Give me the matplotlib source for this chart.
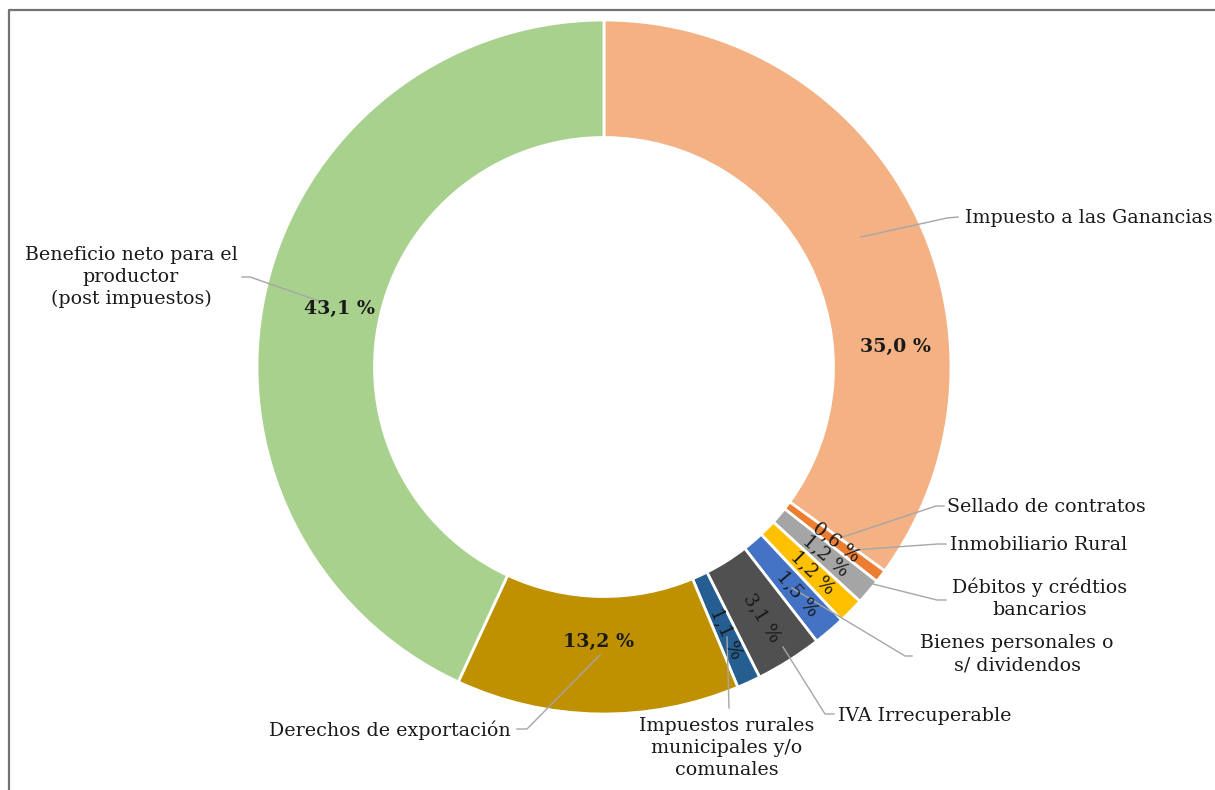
import matplotlib
matplotlib.use("Agg")
import matplotlib.pyplot as plt
import numpy as np

# ---------------- data ----------------
categories = [
    "Impuesto a las Ganancias",
    "Sellado de contratos",
    "Inmobiliario Rural",
    "Débitos y crédtios\nbancarios",
    "Bienes personales o\ns/ dividendos",
    "IVA Irrecuperable",
    "Impuestos rurales\nmunicipales y/o\ncomunales",
    "Derechos de exportación",
    "Beneficio neto para el\nproductor\n(post impuestos)",
]
values = [35.0, 0.6, 1.2, 1.2, 1.5, 3.1, 1.1, 13.2, 43.1]
colors = ["#F4B183", "#ED7D31", "#A5A5A5", "#FFC000", "#4472C4",
          "#505050", "#255E91", "#BF9000", "#A9D18E"]

# ---------------- layout (pixel coords, y from top) ----------------
W, H = 1215, 790
CENTER_PX = (604, 367)
R_OUT, R_IN = 347, 229.5
pct_radius = [292, 291, 291, 293, 298, 296, 293, 275, 271]
pct_angle_override = {0: 3.9}
# external category labels: (x, y, ha)
name_pos = [
    (965, 218, "left"),
    (947, 507, "left"),
    (950, 545, "left"),
    (1040, 598, "center"),
    (1017, 654, "center"),
    (838, 716, "left"),
    (727, 748, "center"),
    (511, 730, "right"),
    (131, 277, "center"),
]
# leader lines (pixel coords, y from top)
leaders = [
    [(861, 237), (947, 218), (958, 217)],
    [(843, 537), (936, 506), (944, 506)],
    [(853, 550), (938, 544), (946, 544)],
    [(873, 584), (937, 600), (946, 600)],
    [(792, 588), (905, 656), (912, 656)],
    [(783, 647), (825, 714), (834, 714)],
    [(727, 637), (729, 708)],
    [(600, 655), (527, 729), (517, 729)],
    [(325, 303), (250, 277), (242, 277)],
]

FONT = "DejaVu Serif"
TXT = "#1a1a1a"
FS = 13.7


def P(x, y):
    return (x, H - y)


fig = plt.figure(figsize=(W / 100, H / 100), dpi=100)
ax = fig.add_axes([0, 0, 1, 1])

cx, cy = P(*CENTER_PX)
wedges, _ = ax.pie(values, colors=colors, startangle=90, counterclock=False,
                   radius=R_OUT, center=(cx, cy),
                   wedgeprops=dict(width=R_OUT - R_IN, edgecolor="white", linewidth=2))
ax.set_xlim(0, W)
ax.set_ylim(0, H)
ax.set_aspect("auto")
ax.axis("off")

# frame
fx = [9, 9, W + 10]
fy = [H + 10, 10, 10]
ax.plot(fx, [H - v for v in fy], color="#737373", lw=1.6, solid_capstyle="butt")

# percentage labels
cum = np.concatenate([[0], np.cumsum(values)])
total = sum(values)
for i, v in enumerate(values):
    mid = 90 - 360 * (cum[i] + v / 2) / total
    ang = pct_angle_override.get(i, mid)
    r = pct_radius[i]
    x = cx + r * np.cos(np.radians(ang))
    y = cy + r * np.sin(np.radians(ang))
    txt = f"{v:.1f}".replace(".", ",") + " %"
    if v >= 10:
        ax.text(x, y, txt, ha="center", va="center", fontsize=FS,
                fontweight="bold", family=FONT, color=TXT)
    else:
        ax.text(x, y, txt, ha="center", va="center", fontsize=FS,
                family=FONT, color=TXT, rotation=mid, rotation_mode="anchor")

# leader lines
for pts in leaders:
    xs = [p[0] for p in pts]
    ys = [H - p[1] for p in pts]
    ax.plot(xs, ys, color="#A6A6A6", lw=1.0)

# category labels
for (x, y, ha), name in zip(name_pos, categories):
    ax.text(x, H - y, name, ha=ha, va="center", multialignment="center",
            fontsize=FS, family=FONT, color=TXT, linespacing=1.3)

fig.savefig("out.png", dpi=100)
